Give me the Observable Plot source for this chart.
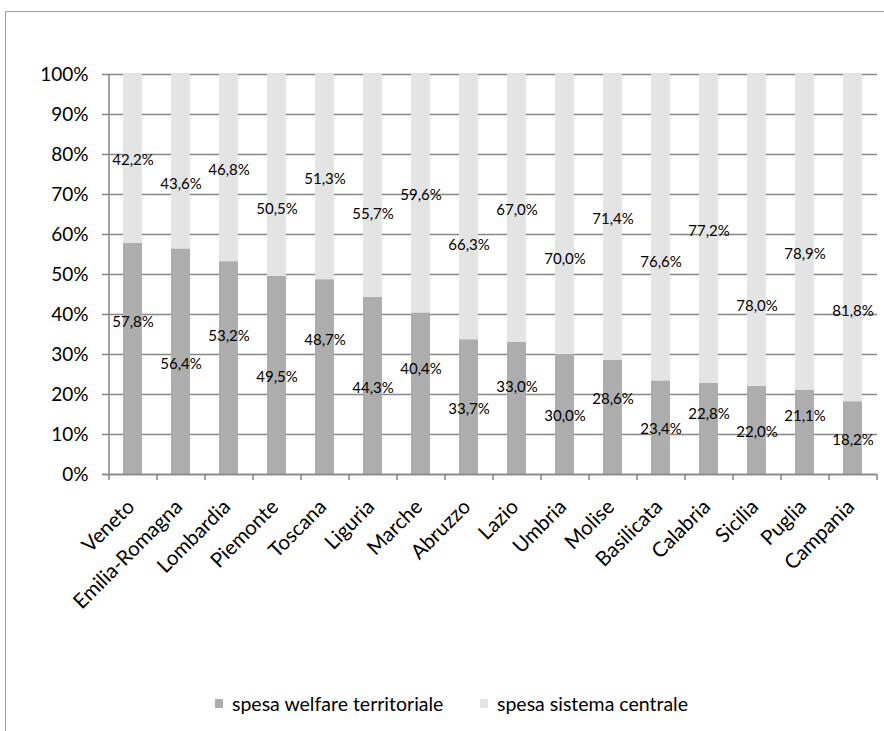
<!DOCTYPE html>
<html>
<head>
<meta charset="utf-8">
<script src="https://cdn.jsdelivr.net/npm/d3@7"></script>
<script src="https://cdn.jsdelivr.net/npm/@observablehq/plot@0.6"></script>
<style>
  html, body { margin: 0; padding: 0; background: #fff; }
  #wrap { position: relative; width: 884px; height: 731px; overflow: hidden; font-family: Lato, "Open Sans", sans-serif; }
  #frame { position: absolute; left: 5px; top: 11px; width: 950px; height: 800px; border: 1.5px solid #a0a0a0; box-sizing: border-box; }
  #chart { position: absolute; left: 0; top: 0; }
  #legend { position: absolute; top: 692px; left: 0; width: 884px; font-size: 19.5px; color: #000; }
  .item { position: absolute; display: flex; align-items: center; white-space: nowrap; }
  .sw { width: 8px; height: 9px; margin-right: 9px; }
</style>
</head>
<body>
<div id="wrap">
  <div id="frame"></div>
  <div id="chart"></div>
  <div id="legend"></div>
</div>
<script>
const regions = ["Veneto","Emilia-Romagna","Lombardia","Piemonte","Toscana","Liguria","Marche","Abruzzo","Lazio","Umbria","Molise","Basilicata","Calabria","Sicilia","Puglia","Campania"];
const welfare = [57.8,56.4,53.2,49.5,48.7,44.3,40.4,33.7,33.0,30.0,28.6,23.4,22.8,22.0,21.1,18.2];
const central = [42.2,43.6,46.8,50.5,51.3,55.7,59.6,66.3,67.0,70.0,71.4,76.6,77.2,78.0,78.9,81.8];
// where the data labels sit, in percent units
const welfareLabelAt = [38.1,27.7,34.5,24.3,33.5,21.7,26.4,16.4,21.8,14.5,18.9,11.4,15.0,10.6,14.5,8.7];
const centralLabelAt = [78.5,72.7,76.2,66.4,73.9,65.2,69.9,57.4,66.2,53.9,63.9,53.1,60.8,42.1,55.2,40.8];
const seriesNames = ["spesa welfare territoriale","spesa sistema centrale"];
const seriesColors = ["#adadad","#e4e4e4"];
const yTicks = [0,10,20,30,40,50,60,70,80,90,100];

const rows = [];
regions.forEach((r, i) => {
  rows.push({region: r, series: seriesNames[0], value: welfare[i]});
  rows.push({region: r, series: seriesNames[1], value: central[i]});
});
const labels = [];
regions.forEach((r, i) => {
  labels.push({region: r, at: welfareLabelAt[i], v: welfare[i]});
  labels.push({region: r, at: centralLabelAt[i], v: central[i]});
});
const fmt = v => v.toFixed(1).replace(".", ",") + "%";
const gridColor = "#868686";

const plot = Plot.plot({
  width: 884,
  height: 620,
  marginLeft: 109,
  marginRight: 7,
  marginTop: 74,
  marginBottom: 146,
  style: {fontFamily: "Lato, 'Open Sans', sans-serif", color: "#000", background: "transparent"},
  x: {domain: regions, paddingInner: 0.6, paddingOuter: 0.3, label: null, axis: null},
  y: {domain: [0, 100], label: null},
  color: {domain: seriesNames, range: seriesColors},
  marks: [
    Plot.gridY(yTicks, {stroke: gridColor, strokeOpacity: 1, strokeWidth: 1.5}),
    Plot.axisY(yTicks, {tickSize: 7, tickPadding: 14, stroke: gridColor, strokeWidth: 1.5, fontSize: 19, tickFormat: d => d + "%", label: null}),
    Plot.barY(rows, {x: "region", y: "value", fill: "series", order: seriesNames}),
    Plot.ruleY([0], {stroke: gridColor, strokeWidth: 1.5, insetLeft: -7}),
    Plot.axisX(regions, {tickSize: 6, dx: -24, stroke: gridColor, strokeWidth: 1.5, text: null, label: null}),
    Plot.axisX([regions[regions.length - 1]], {tickSize: 6, dx: 24, stroke: gridColor, strokeWidth: 1.5, text: null, label: null}),
    Plot.text(regions, {x: d => d, frameAnchor: "bottom", rotate: -45, textAnchor: "end", lineAnchor: "middle", dy: 29, dx: -2, fontSize: 20.5, fill: "#000"}),
    Plot.text(labels, {x: "region", y: "at", text: d => fmt(d.v), fontSize: 15, fill: "#000"})
  ]
});
// left y-axis line
d3.select(plot).append("line")
  .attr("x1", 109).attr("x2", 109).attr("y1", 74).attr("y2", 474)
  .attr("stroke", gridColor).attr("stroke-width", 1.5);
document.getElementById("chart").appendChild(plot);

const legend = document.getElementById("legend");
const lefts = [215, 480];
seriesNames.forEach((s, i) => {
  const it = document.createElement("div");
  it.className = "item";
  it.style.left = lefts[i] + "px";
  const sw = document.createElement("span");
  sw.className = "sw";
  sw.style.background = seriesColors[i];
  it.appendChild(sw);
  it.appendChild(document.createTextNode(s));
  legend.appendChild(it);
});
</script>
</body>
</html>
